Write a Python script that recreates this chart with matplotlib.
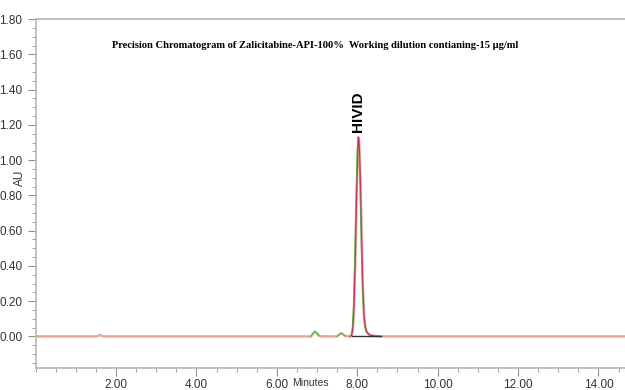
import matplotlib

matplotlib.use("Agg")
import matplotlib.pyplot as plt
from matplotlib.ticker import MultipleLocator, FormatStrFormatter

# trace (minutes, AU)
red_time = [0.0, 1.50, 1.56, 1.60, 1.64, 1.70, 6.85, 6.90, 6.95, 7.00, 7.05, 7.10,
            7.50, 7.55, 7.60, 7.65, 7.70, 7.82, 7.86, 7.89, 7.92, 7.95, 7.98, 8.01,
            8.03, 8.05, 8.08, 8.11, 8.14, 8.17, 8.20, 8.24, 8.30, 8.40, 8.60, 14.8]
red_au = [0.0, 0.0, 0.004, 0.008, 0.004, 0.0, 0.0, 0.016, 0.027, 0.016, 0.004, 0.0,
          0.0, 0.010, 0.018, 0.011, 0.002, 0.0, 0.006, 0.04, 0.16, 0.42, 0.74, 1.02,
          1.13, 1.10, 0.88, 0.56, 0.28, 0.12, 0.055, 0.024, 0.010, 0.003, 0.0, 0.0]

# second injection (green), only where it separates from the first
green_small1_time = [6.85, 6.90, 6.95, 7.00, 7.05]
green_small1_au = [0.0, 0.018, 0.029, 0.018, 0.004]
green_small2_time = [7.50, 7.55, 7.60, 7.65, 7.70]
green_small2_au = [0.0, 0.011, 0.019, 0.012, 0.002]
green_main_time = [7.82, 7.85, 7.88, 7.91, 7.94, 7.97, 8.00, 8.02, 8.04, 8.07, 8.10,
                   8.13, 8.16, 8.19, 8.23, 8.30, 8.40, 8.60]
green_main_au = [0.0, 0.008, 0.05, 0.19, 0.47, 0.80, 1.06, 1.13, 1.09, 0.86, 0.53,
                 0.26, 0.11, 0.05, 0.022, 0.009, 0.003, 0.0]

integration_time = [7.86, 8.60]
integration_au = [0.0, 0.0]

peak_name = "HIVID"
peak_time = 8.03
peak_label_au = 1.16

title = "Precision Chromatogram of Zalicitabine-API-100%  Working dilution contianing-15 \u00b5g/ml"

x_lim = (0.0, 14.66)
y_lim = (-0.18, 1.80)
x_ticks = [2.0, 4.0, 6.0, 8.0, 10.0, 12.0, 14.0]

tick_font = ["Liberation Sans Narrow", "Liberation Sans", "DejaVu Sans"]

fig = plt.figure(figsize=(6.25, 3.9), dpi=100)
ax = fig.add_axes([0.057, 0.056, 0.943, 0.895])

ax.plot(red_time, red_au, color="#e8a898", linewidth=1.8, zorder=2)
ax.plot(green_small1_time, green_small1_au, color="#3cc43c", linewidth=0.8, zorder=3)
ax.plot(green_small2_time, green_small2_au, color="#3cc43c", linewidth=0.8, zorder=3)
ax.plot(green_main_time, green_main_au, color="#3cc43c", linewidth=0.8, zorder=3)
peak_slice = slice(17, 35)
ax.plot(red_time[peak_slice], red_au[peak_slice], color="#d0306a", linewidth=0.8, zorder=4)
ax.plot(integration_time, integration_au, color="#303030", linewidth=1.0, zorder=5)

ax.text(peak_time, peak_label_au, peak_name, rotation=90, ha="center", va="bottom",
        fontsize=11, fontweight="bold", family=["Liberation Sans", "DejaVu Sans"])

ax.text(0.475, 0.925, title, transform=ax.transAxes, ha="center", va="center",
        fontsize=7.6, fontweight="bold", family=["Liberation Serif", "DejaVu Serif"])

ax.set_xticks(x_ticks)
ax.set_xlim(*x_lim)
ax.set_ylim(*y_lim)
ax.xaxis.set_minor_locator(MultipleLocator(0.5))
ax.yaxis.set_major_locator(MultipleLocator(0.2))
ax.yaxis.set_minor_locator(MultipleLocator(0.05))
ax.xaxis.set_major_formatter(FormatStrFormatter("%.2f"))
ax.yaxis.set_major_formatter(FormatStrFormatter("%.2f"))

ax.spines["right"].set_visible(False)
for spine in ("top", "left", "bottom"):
    ax.spines[spine].set_color("#b8b8b8")
    ax.spines[spine].set_linewidth(1.2)

ax.tick_params(which="both", color="#909090", labelcolor="#333333", labelsize=8.5)
ax.tick_params(which="major", length=6, width=0.8)
ax.tick_params(which="minor", length=3, width=0.6)
ax.tick_params(axis="x", which="major", pad=2)
for lab in ax.get_xticklabels() + ax.get_yticklabels():
    lab.set_family(tick_font)

fig.text(20 / 625, 1 - 178 / 390, "AU", rotation=90, ha="center", va="center",
         fontsize=8.5, color="#333333", family=tick_font)
fig.text(310 / 625, 1 - 383 / 390, "Minutes", ha="center", va="center", fontsize=7.5,
         color="#333333", family=tick_font)

fig.savefig("out.png", dpi=100)
